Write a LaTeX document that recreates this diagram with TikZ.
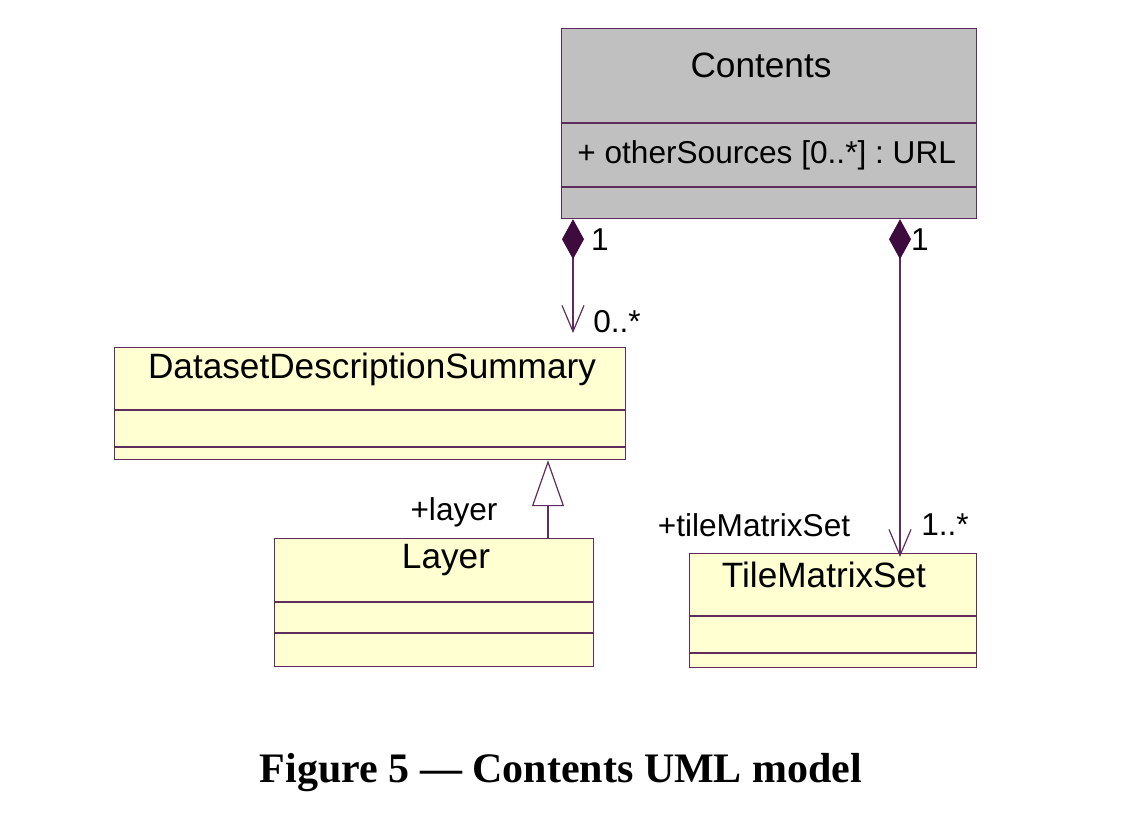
\documentclass[tikz,border=0pt]{standalone}
\usepackage{fontspec}
\setmainfont{Liberation Sans}
\newfontfamily\figfont{Liberation Serif}
\usetikzlibrary{arrows.meta}
\frenchspacing

\definecolor{umlgray}{RGB}{192,192,192}
\definecolor{umlyellow}{RGB}{255,255,210}
\definecolor{umlpurple}{RGB}{94,45,94}
\definecolor{umldark}{RGB}{61,11,61}

\tikzset{
  classbox/.style={draw=umlpurple, line width=0.6pt, rectangle, inner sep=0pt, anchor=north west},
  classname/.style={inner sep=0pt, font=\fontsize{17.6}{21}\selectfont},
  rolelabel/.style={inner sep=0pt, font=\fontsize{15.8}{19}\selectfont},
  divider/.style={draw=umlpurple, line width=0.6pt},
  assoc/.style={draw=umlpurple, line width=0.6pt,
    {Diamond[length=20pt, width=11pt, fill=umldark, umldark]}-{Straight Barb[length=13pt, width=11pt]}},
  generalize/.style={draw=umlpurple, line width=0.6pt,
    -{Triangle[open, length=23pt, width=16pt, fill=white]}}
}

\begin{document}
\begin{tikzpicture}[x=0.5pt, y=-0.5pt]
\useasboundingbox (0,0) rectangle (1128,828);

% classes
\node[classbox, fill=umlgray, minimum width=207.5pt, minimum height=95pt] (contents) at (561,28) {};
\node[classbox, fill=umlyellow, minimum width=255.5pt, minimum height=56pt] (dds) at (114,347) {};
\node[classbox, fill=umlyellow, minimum width=159.5pt, minimum height=64pt] (layer) at (274,538) {};
\node[classbox, fill=umlyellow, minimum width=143.5pt, minimum height=57pt] (tms) at (689,553) {};

% compartments
\draw[divider] (561,123) -- (976,123);
\draw[divider] (561,187) -- (976,187);
\draw[divider] (114,410) -- (625,410);
\draw[divider] (114,447) -- (625,447);
\draw[divider] (274,602) -- (593,602);
\draw[divider] (274,633) -- (593,633);
\draw[divider] (689,616) -- (976,616);
\draw[divider] (689,653) -- (976,653);

% names and attributes
\node[classname] (contentsname) at (761,65) {Contents};
\node[classname, anchor=west] (contentsattr) at (577,155) {\fontsize{15.8}{19}\selectfont + otherSources [0..*] : URL};
\node[classname] (ddsname) at (372,369) {DatasetDescriptionSummary};
\node[classname] (layername) at (446,560) {Layer};
\node[classname] (tmsname) at (824,575) {TileMatrixSet};

% connectors
\draw[assoc, shorten >=7pt] ([xshift=6pt]contents.south west) -- ([xshift=6pt]contents.south west |- dds.north);
\draw[assoc, shorten >=-2pt] ([xshift=169.5pt]contents.south west) -- ([xshift=169.5pt]contents.south west |- tms.north);
\draw[generalize] ([xshift=137pt]layer.north west) -- ([xshift=137pt]layer.north west |- dds.south);

% role names and multiplicities
\node[rolelabel] (m1) at (600,240) {1};
\node[rolelabel] (m2) at (617,322) {0..*};
\node[rolelabel] (m3) at (920,240) {1};
\node[rolelabel] (m4) at (945,525) {1..*};
\node[rolelabel] (r1) at (454,512) {+layer};
\node[rolelabel] (r2) at (754,525) {+tileMatrixSet};

% caption
\node[inner sep=0pt, font=\figfont\bfseries\fontsize{21}{25}\selectfont] (caption) at (561,773) {Figure 5 — Contents UML model};
\end{tikzpicture}
\end{document}
